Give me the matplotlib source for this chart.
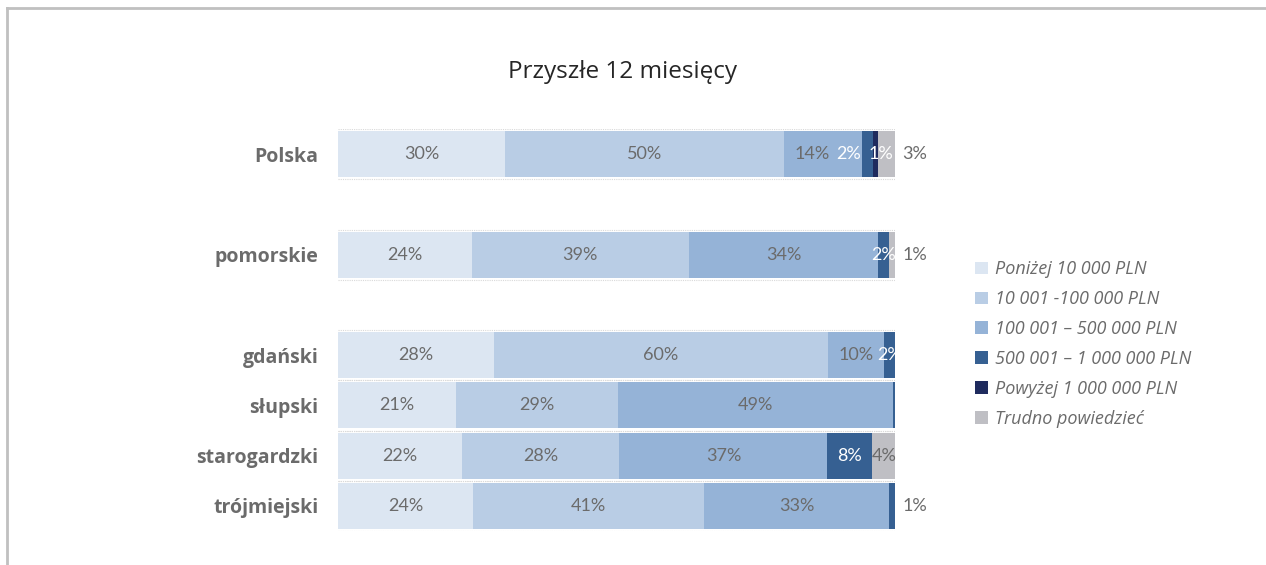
import matplotlib
matplotlib.use("Agg")
import matplotlib.pyplot as plt
from matplotlib.lines import Line2D
import numpy as np

# Data
categories = ["Polska", "pomorskie", "gdański", "słupski", "starogardzki", "trójmiejski"]
positions = [0, 2, 4, 5, 6, 7]
series_names = ["Poniżej 10 000 PLN", "10 001 -100 000 PLN", "100 001 – 500 000 PLN",
                "500 001 – 1 000 000 PLN", "Powyżej 1 000 000 PLN", "Trudno powiedzieć"]
below_10k = [30, 24, 28, 21, 22, 24]
from_10k = [50, 39, 60, 29, 28, 41]
from_100k = [14, 34, 10, 49, 37, 33]
from_500k = [2, 2, 2, 0.3, 8, 1]
above_1m = [1, 0, 0, 0, 0, 0]
hard_to_say = [3, 1, 0, 0, 4, 0]

colors = ["#dce6f2", "#b9cde5", "#95b3d7", "#366092", "#1f2b5e", "#bfbfc4"]
text_colors = ["#6b6b6b", "#6b6b6b", "#6b6b6b", "white", "white", "#6b6b6b"]
# last label of a row drawn outside the bar
outside_last = [True, True, False, False, False, True]
# small nudges (series, row) -> shift in % so crowded labels don't collide
label_shift = {(2, 0): -1.8, (3, 0): -3.4, (4, 0): 0.9}

plt.rcParams['font.family'] = ['Open Sans', 'DejaVu Sans']
label_font = ['Lato', 'DejaVu Sans']

data = np.array([below_10k, from_10k, from_100k, from_500k, above_1m, hard_to_say], dtype=float)
shares = data / data.sum(axis=0) * 100

fig = plt.figure(figsize=(12.66, 5.65), dpi=100)
ax = fig.add_axes([338 / 1266, (565 - 531) / 565, 557 / 1266, 402 / 565])

left = np.zeros(len(categories))
for i, name in enumerate(series_names):
    ax.barh(positions, shares[i], left=left, height=0.92, color=colors[i], label=name)
    for j, p in enumerate(positions):
        v = data[i, j]
        if v < 1:
            continue
        last = i == max(k for k in range(6) if data[k, j] >= 1)
        if last and outside_last[j]:
            ax.text(101.3, p, f"{v:.0f}%", ha="left", va="center", fontsize=13,
                    color="#6b6b6b", family=label_font)
        else:
            x = left[j] + shares[i, j] / 2 + label_shift.get((i, j), 0)
            ax.text(x, p, f"{v:.0f}%", ha="center", va="center",
                    fontsize=13, color=text_colors[i], family=label_font)
    left += shares[i]

# faint dotted lines along bar edges
for p in positions:
    ax.hlines([p - 0.5, p + 0.5], 0, 100, colors="#d9d9d9", linestyles=(0, (1, 1)), linewidth=0.8)

ax.set_xlim(0, 100)
ax.set_ylim(7.5, -0.5)
ax.set_yticks(positions)
ax.set_yticklabels(categories, fontsize=14, fontweight="bold", color="#6b6b6b")
ax.tick_params(axis="y", length=0, pad=14)
ax.set_xticks([])
for s in ax.spines.values():
    s.set_visible(False)

fig.text(622 / 1266, 1 - 72 / 565, "Przyszłe 12 miesięcy", ha="center", va="center",
         fontsize=17.5, color="#262626")

leg = fig.legend(loc="upper left", bbox_to_anchor=(959 / 1266, 1 - 244 / 565), frameon=False,
                 handlelength=0.7, handleheight=0.7, handletextpad=0.4, labelspacing=0.66,
                 prop={"style": "italic", "size": 13})
for t in leg.get_texts():
    t.set_color("#6b6b6b")

# outer border (top and left)
fig.add_artist(Line2D([7 / 1266, 1], [1 - 8 / 565, 1 - 8 / 565], color="#c0c0c0", linewidth=2))
fig.add_artist(Line2D([7 / 1266, 7 / 1266], [0, 1 - 8 / 565], color="#c0c0c0", linewidth=2))

fig.savefig("out.png", dpi=100)
